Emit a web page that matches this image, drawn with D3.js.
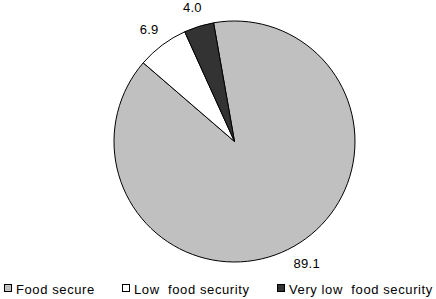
<!DOCTYPE html>
<html>
<head>
<meta charset="utf-8">
<script src="https://cdn.jsdelivr.net/npm/d3@7"></script>
<style>
  body { margin: 0; background: #fff; }
  text { font-family: "Liberation Sans", Arial, sans-serif; fill: #000; }
</style>
</head>
<body>
<script>
var categories = ["Food secure", "Low  food security", "Very low  food security"];
var values = [89.1, 6.9, 4.0];
var colors = ["#c0c0c0", "#ffffff", "#333333"];

var screen = {width: 436, height: 299};
var cx = 234.5, cy = 141.5, radius = 120.5, labelRadius = 133;

var svg = d3.select("body")
            .append("svg")
            .attr("width", screen.width)
            .attr("height", screen.height);

var data = categories.map(function(c, i) { return {name: c, value: values[i], color: colors[i]}; });

var start = -10 * Math.PI / 180;
var pie = d3.pie()
            .sort(null)
            .value(function(d) { return d.value; })
            .startAngle(start)
            .endAngle(start + 2 * Math.PI);

var arc = d3.arc()
            .innerRadius(0)
            .outerRadius(radius);

var g = svg.append("g")
           .attr("transform", "translate(" + cx + "," + cy + ")");

var arcs = pie(data);

g.selectAll("path")
 .data(arcs)
 .enter()
 .append("path")
 .attr("d", arc)
 .attr("fill", function(d) { return d.data.color; })
 .attr("stroke", "#000")
 .attr("stroke-width", 1);

// data labels, placed just outside the slice end
g.selectAll("text.lbl")
 .data(arcs)
 .enter()
 .append("text")
 .attr("class", "lbl")
 .attr("font-size", "13px")
 .attr("letter-spacing", "0.3px")
 .attr("text-anchor", "middle")
 .text(function(d) { return d.data.value.toFixed(1); })
 .each(function(d) {
   var a = (d.startAngle + d.endAngle) / 2;
   var bb = this.getBBox();
   var px = labelRadius * Math.sin(a) + Math.sin(a) * bb.width / 2;
   var py = -labelRadius * Math.cos(a) - Math.cos(a) * bb.height / 2;
   var dx = px - (bb.x + bb.width / 2);
   var dy = py - (bb.y + bb.height / 2);
   d3.select(this).attr("x", dx).attr("y", dy);
 });

// legend
var legendX = [4, 122, 277];
var legend = svg.append("g")
                .selectAll("g")
                .data(data)
                .enter()
                .append("g")
                .attr("transform", function(d, i) { return "translate(" + legendX[i] + ",284)"; });

legend.append("rect")
      .attr("x", 0.5)
      .attr("y", 0.5)
      .attr("width", 7)
      .attr("height", 7)
      .attr("fill", function(d) { return d.color; })
      .attr("stroke", "#000");

legend.append("text")
      .attr("x", 12)
      .attr("y", 9.5)
      .attr("font-size", "13px")
      .attr("letter-spacing", "0.6px")
      .style("white-space", "pre")
      .text(function(d) { return d.name; });
</script>
</body>
</html>
